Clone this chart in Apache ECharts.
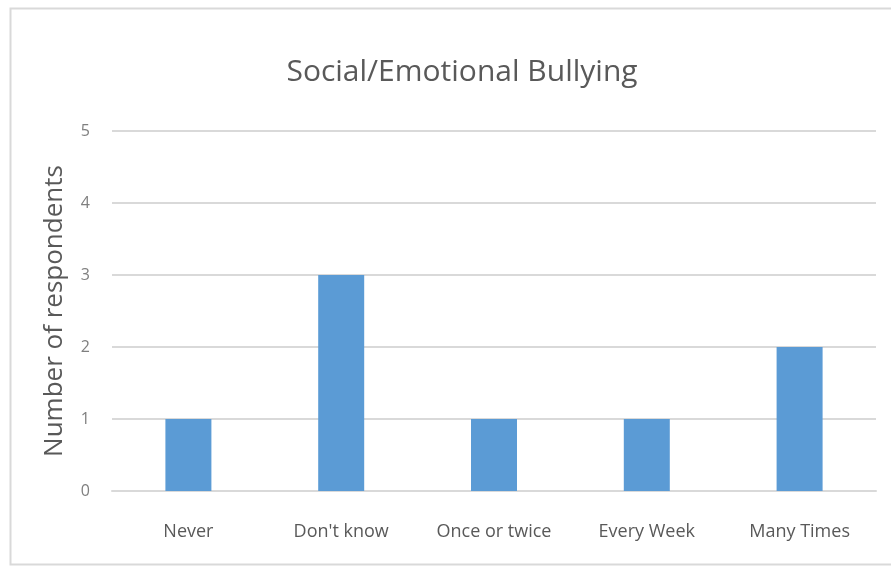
<!DOCTYPE html>
<html><head><meta charset="utf-8">
<script src="https://cdn.jsdelivr.net/npm/echarts@6/dist/echarts.min.js"></script>
<style>html,body{margin:0;padding:0;background:#fff}#c{width:891px;height:567px}</style>
</head><body><div id="c"></div>
<script>
var categories = ["Never", "Don't know", "Once or twice", "Every Week", "Many Times"];
var values = [1, 3, 1, 1, 2];
var yTicks = [0, 1, 2, 3, 4, 5];
var titleText = "Social/Emotional Bullying";
var yAxisName = "Number of respondents";

var font = "'Open Sans', sans-serif";
var chart = echarts.init(document.getElementById('c'));
chart.setOption({
  backgroundColor: '#fff',
  animation: false,
  graphic: [{
    type: 'rect', shape: {x: 10.5, y: 8.5, width: 900, height: 556},
    style: {fill: 'none', stroke: '#d9d9d9', lineWidth: 2}, silent: true
  }],
  title: {
    text: titleText, left: 457, top: 52, textAlign: 'center',
    textStyle: {fontFamily: font, fontWeight: 'normal', fontSize: 30, color: '#595959'}
  },
  grid: {left: 112, right: 15, top: 131, bottom: 76, containLabel: false},
  xAxis: {
    type: 'category', data: categories,
    axisLine: {lineStyle: {color: '#d9d9d9', width: 2}},
    axisTick: {show: false},
    axisLabel: {fontFamily: font, fontSize: 18, color: '#595959', margin: 32}
  },
  yAxis: {
    type: 'value', min: yTicks[0], max: yTicks[yTicks.length - 1], interval: 1,
    name: yAxisName, nameLocation: 'middle', nameGap: 44, nameRotate: 90,
    nameTextStyle: {fontFamily: font, fontSize: 26, color: '#595959'},
    axisLine: {show: false}, axisTick: {show: false},
    axisLabel: {fontFamily: font, fontSize: 16, color: '#7f7f7f', margin: 22},
    splitLine: {lineStyle: {color: '#d9d9d9', width: 2}}
  },
  series: [{
    type: 'bar', data: values, barWidth: 46,
    itemStyle: {color: '#5b9bd5'}
  }]
});
</script></body></html>
